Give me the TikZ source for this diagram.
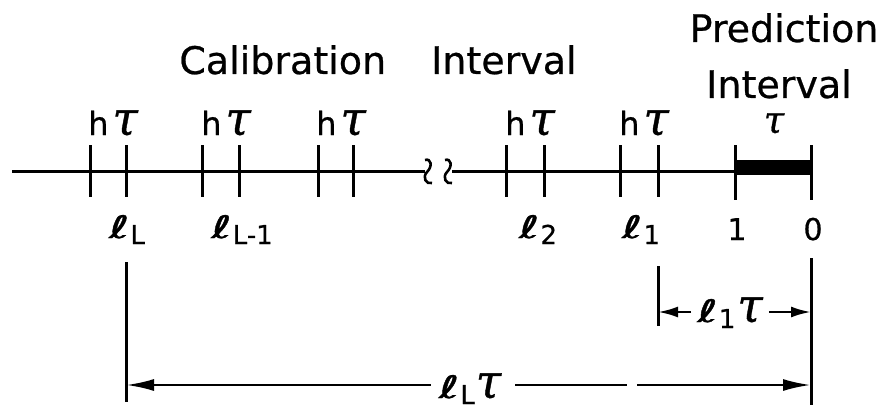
\documentclass[tikz,border=0pt]{standalone}
\usepackage{fontspec}
\setmainfont[FakeBold=0.6]{DejaVu Sans}
\newfontfamily\symfont[FakeBold=0.9]{DejaVu Sans}
\newfontfamily\taufont[FakeBold=0.8]{DejaVu Serif}
\usetikzlibrary{arrows.meta}
\tikzset{
  ln/.style={line width=3pt},
  lbl/.style={inner sep=0pt, anchor=base, font=\fontsize{32}{33}\selectfont},
  sym/.style={inner sep=0pt, anchor=base, font=\fontsize{31}{33}\selectfont},
  num/.style={inner sep=0pt, anchor=base, font=\fontsize{30}{32}\selectfont},
  ttl/.style={inner sep=0pt, anchor=base, font=\fontsize{38}{40}\selectfont},
  dimarrow/.style={line width=2.6pt, -{Latex[length=28pt,width=12pt]}},
  dimarrows/.style={line width=2.6pt, -{Latex[length=20pt,width=11pt]}},
}
\newcommand{\tauL}{\scalebox{1.2}[1.25]{\fontsize{38}{38}\selectfont\taufont\itshape τ}}
\newcommand{\ellL}{\scalebox{1.6}[1]{\fontsize{31}{31}\selectfont\symfont ℓ}}
\newcommand{\subf}[1]{\kern1pt\raisebox{-6pt}{\fontsize{26}{26}\selectfont #1}}
\begin{document}
\begin{tikzpicture}[x=1pt,y=-1pt]
\useasboundingbox[fill=white] (0,0) rectangle (890,417);
% titles
\node[ttl] (cal) at (378,74) {Calibration\hspace{45pt}Interval};
\node[ttl] (pred) at (784,42) {Prediction};
\node[ttl] (pint) at (779,98) {Interval};
% axis
\coordinate (a0) at (12,171);
\coordinate (b1) at (425,171);
\coordinate (b2) at (452,171);
\coordinate (p1) at (735,171);
\coordinate (p0) at (811,171);
\draw[ln] (a0) -- (b1);
\draw[ln] (b2) -- (p1);
% break marks
\foreach \bx in {425,445}{
  \draw[line width=2.6pt] (\bx,160) .. controls (\bx+6,158) and (\bx+8,166) .. (\bx+2,172)
     .. controls (\bx-3,177) and (\bx+1,185) .. (\bx+7,183);
}
% ticks
\foreach \x [count=\i] in {90,126,202,239,318,353,506,544,620,658}{
  \coordinate (tt\i) at (\x,145);
  \coordinate (tb\i) at (\x,197);
  \draw[ln] (tt\i) -- (tb\i);
}
\coordinate (pt1) at (735,145);
\coordinate (pb1) at (735,200);
\coordinate (pt0) at (811,145);
\coordinate (pb0) at (811,200);
\draw[ln] (pt1) -- (pb1);
\draw[ln] (pt0) -- (pb0);
\fill (735,160) rectangle (811,175);
% h tau labels
\foreach \x [count=\i] in {113,226,341,530,644}{
  \node[lbl] (ht\i) at (\x,135) {h\kern4pt\tauL};
}
\node[lbl] (tau) at (774,133) {\scalebox{0.8}{\tauL}};
% lower labels
\node[sym] (lL) at (127,238) {\ellL\subf{L}};
\node[sym] (lL1) at (242,238) {\ellL\subf{L-1}};
\node[sym] (l2) at (538,238) {\ellL\subf{2}};
\node[sym] (l1) at (641,238) {\ellL\subf{1}};
\node[num] (one) at (737,240) {1};
\node[num] (zero) at (813,240) {0};
% dimension lines
\coordinate (vL0) at (126,262);
\coordinate (vL1) at (126,402);
\coordinate (v10) at (658,266);
\coordinate (v11) at (658,326);
\coordinate (vR0) at (811,258);
\coordinate (vR1) at (811,405);
\draw[ln] (vL0) -- (vL1);
\draw[ln] (v10) -- (v11);
\draw[ln] (vR0) -- (vR1);
\coordinate (a1l) at (658,312);
\coordinate (a1r) at (811,312);
\node[sym] (l1t) at (730,322) {\ellL\subf{1}\kern2pt\tauL};
\draw[dimarrows] (l1t.west |- a1l) ++(-6,0) -- (a1l);
\draw[dimarrows] (l1t.east |- a1r) ++(6,0) -- (a1r);
\coordinate (aLl) at (126,385);
\coordinate (aLr) at (811,385);
\coordinate (gap1) at (627,385);
\coordinate (gap2) at (637,385);
\node[sym] (lLt) at (470,398) {\ellL\subf{L}\kern1pt\tauL};
\draw[dimarrow] (lLt.west |- aLl) ++(-8,0) -- (aLl);
\draw[line width=2.6pt] (lLt.east |- gap1) ++(14,0) -- (gap1);
\draw[dimarrow] (gap2) -- (aLr);
\end{tikzpicture}
\end{document}
